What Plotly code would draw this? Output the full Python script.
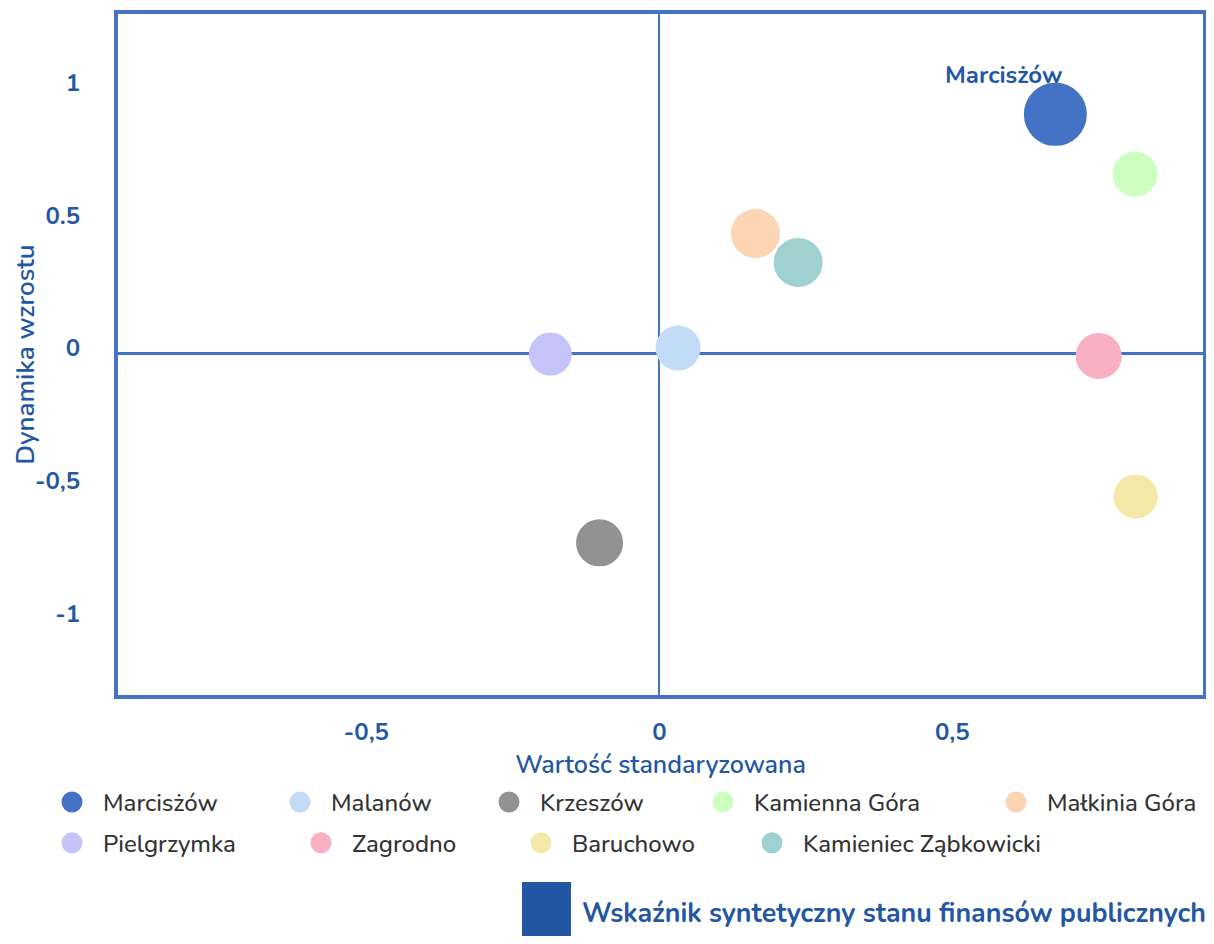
import plotly.graph_objects as go

# ---- data ----
names = ["Marcisżów", "Malanów", "Krzeszów", "Kamienna Góra", "Małkinia Góra",
         "Pielgrzymka", "Zagrodno", "Baruchowo", "Kamieniec Ząbkowicki"]
x_std = [0.676, 0.032, -0.102, 0.812, 0.164, -0.186, 0.750, 0.813, 0.237]
y_dyn = [0.899, 0.019, -0.715, 0.674, 0.450, -0.004, -0.011, -0.540, 0.341]

x_tickvals = [-0.5, 0, 0.5]
x_ticktext = ["-0,5", "0", "0,5"]
y_tickvals = [-1, -0.5, 0, 0.5, 1]
y_ticktext = ["-1", "-0,5", "0", "0.5", "1"]

highlight = "Marcisżów"
x_title = "Wartość standaryzowana"
y_title = "Dynamika wzrostu"
footer_label = "Wskaźnik syntetyczny stanu finansów publicznych"

# ---- styles ----
colors = ["#4472C4", "#C2DCF8", "#929292", "#CCFFC0", "#FBD5B4",
          "#C4C4F8", "#F8B0C2", "#F4EAA8", "#9FD1D1"]
marker_sizes = [63, 45, 47, 45, 49, 43, 46, 44, 49]
# legend entry placement (pixel x of the symbol centre, row index)
legend_px = [72, 300, 509, 723, 1016, 72, 321, 541, 772]
legend_row = [0, 0, 0, 0, 0, 1, 1, 1, 1]
row_py = [803, 844]

BLUE = "#2457A3"
LINE = "#4472C4"
FONT = "Nunito, Lato, 'Open Sans', sans-serif"

# plot area in page pixels (page body has 8px margin)
PL, PR, PT, PB = 118, 1203, 10, 695
W, H = 1206, 928
PW, PH = PR - PL, PB - PT


def px_x(px):
    return (px - PL) / PW


def px_y(py):
    return (PB - py) / PH


ITEMW = 52
MLW = 5  # marker outline (same colour) so legend symbols render larger

fig = go.Figure()
legend_layout = {}
for i, (n, xv, yv, c, s) in enumerate(zip(names, x_std, y_dyn, colors, marker_sizes)):
    key = "legend" if i == 0 else f"legend{i + 1}"
    fig.add_trace(go.Scatter(
        x=[xv], y=[yv], name=n, mode="markers", legend=key,
        marker=dict(color=c, size=s - MLW, line=dict(width=MLW, color=c)),
    ))
    legend_layout[key] = dict(
        orientation="h",
        x=px_x(legend_px[i] - ITEMW / 2 - 5), xanchor="left",
        y=px_y(row_py[legend_row[i]]), yanchor="middle",
        itemwidth=ITEMW, itemsizing="trace",
        font=dict(family=FONT, size=24, color="#333333", weight=500),
        bgcolor="rgba(0,0,0,0)", borderwidth=0,
    )

hi = names.index(highlight)
fig.add_annotation(
    x=x_std[hi], y=y_dyn[hi], text=highlight, showarrow=False,
    xshift=-52, yshift=39, font=dict(family=FONT, size=24, color=BLUE, weight=700),
)

# footer legend-like marker
fig.add_shape(type="rect", xref="paper", yref="paper",
              x0=px_x(522), x1=px_x(571), y0=px_y(883), y1=px_y(960),
              fillcolor=BLUE, line=dict(width=0), layer="above")
fig.add_annotation(xref="paper", yref="paper", x=px_x(580), y=px_y(914),
                   xanchor="left", yanchor="middle", showarrow=False,
                   text=footer_label,
                   font=dict(family=FONT, size=26.8, color=BLUE, weight=700))

fig.update_layout(
    width=W, height=H,
    margin=dict(l=PL - 8, r=8 + W - PR, t=PT - 8, b=8 + H - PB),
    paper_bgcolor="white", plot_bgcolor="white",
    font=dict(family=FONT, size=24, color=BLUE),
    showlegend=True,
    **legend_layout,
)
fig.update_xaxes(
    range=[-0.924, 0.928], tickvals=x_tickvals, ticktext=x_ticktext,
    showgrid=False, zeroline=True, zerolinecolor=LINE, zerolinewidth=1.5,
    showline=True, mirror=True, linecolor=LINE, linewidth=4,
    ticks="", ticklabelstandoff=12,
    tickfont=dict(family=FONT, size=24, color=BLUE, weight=700),
    title=dict(text=x_title, standoff=0,
               font=dict(family=FONT, size=25, color=BLUE, weight=600)),
)
fig.update_yaxes(
    range=[-1.288, 1.277], tickvals=y_tickvals, ticktext=y_ticktext,
    showgrid=False, zeroline=True, zerolinecolor=LINE, zerolinewidth=3,
    showline=True, mirror=True, linecolor=LINE, linewidth=4,
    ticks="", ticklabelstandoff=29, ticklabelshift=-5,
    tickfont=dict(family=FONT, size=24, color=BLUE, weight=700),
    title=dict(text=y_title, standoff=2,
               font=dict(family=FONT, size=26, color=BLUE, weight=600)),
)

fig.write_html("out.html")
